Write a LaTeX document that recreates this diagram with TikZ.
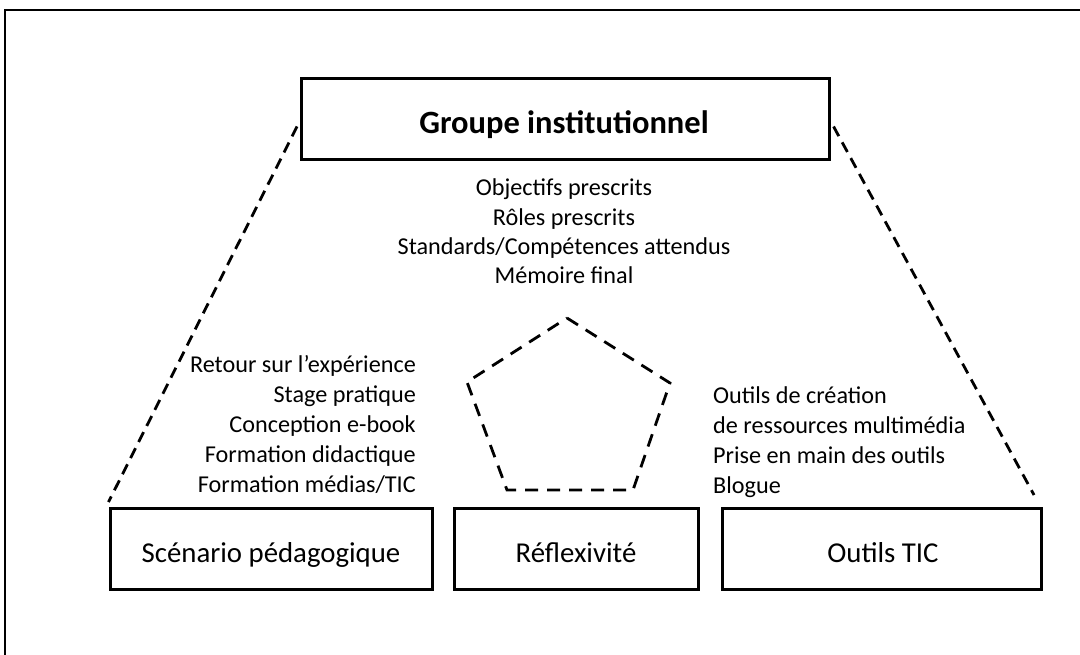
\documentclass[tikz,border=0pt]{standalone}
\usepackage{fontspec}
\setmainfont{Carlito}
\begin{document}
\begin{tikzpicture}[x=1pt,y=-1pt,
  boxstyle/.style={draw,line width=3pt,inner sep=0pt},
  dashline/.style={line width=2.8pt,dash pattern=on 11pt off 7pt},
  pentline/.style={line width=2.8pt,dash pattern=on 13pt off 9pt},
  bodytext/.style={inner sep=0pt,font=\fontsize{24.2}{29}\selectfont},
  labeltext/.style={font=\fontsize{28.8}{32}\selectfont}]
\useasboundingbox (0,0) rectangle (1080,654);
% outer frame (partial)
\draw[line width=2pt] (5,656) -- (5,10) -- (1082,10);
% boxes
\node[boxstyle,minimum width=527.5pt,minimum height=81pt] (tb) at (565.3,118.5) {};
\node[font=\bfseries\fontsize{32.5}{36}\selectfont,anchor=base] (tbt) at (564,133) {Groupe institutionnel};
\node[boxstyle,minimum width=322pt,minimum height=80.5pt] (sc) at (271,548.8) {};
\node[boxstyle,minimum width=244pt,minimum height=80.5pt] (re) at (576,548.8) {};
\node[boxstyle,minimum width=319.5pt,minimum height=80.5pt] (ot) at (881.8,548.8) {};
\node[labeltext,anchor=base] (sct) at (271,562) {Scénario pédagogique};
\node[labeltext,anchor=base] (ret) at (576,562) {Réflexivité};
\node[labeltext,anchor=base] (ott) at (883,562) {Outils TIC};
% dashed sides
\draw[dashline] ([xshift=-3pt,yshift=-8pt]tb.west) -- ([yshift=5pt]sc.north west);
\draw[dashline] ([xshift=3pt,yshift=-8pt]tb.east) -- ([xshift=-9pt,yshift=12pt]ot.north east);
% centre texts
\node[bodytext,anchor=base] (c1) at (564,195) {Objectifs prescrits};
\node[bodytext,anchor=base] (c2) at (564,225) {Rôles prescrits};
\node[bodytext,anchor=base] (c3) at (564,254.5) {Standards/Compétences attendus};
\node[bodytext,anchor=base] (c4) at (564,283.5) {Mémoire final};
% left texts
\node[bodytext,anchor=base east] (l1) at (416,372) {Retour sur l’expérience};
\node[bodytext,anchor=base east] (l2) at (416,402) {Stage pratique};
\node[bodytext,anchor=base east] (l3) at (416,432) {Conception e-book};
\node[bodytext,anchor=base east] (l4) at (416,462) {Formation didactique};
\node[bodytext,anchor=base east] (l5) at (416,492) {Formation médias/TIC};
% right texts
\node[bodytext,anchor=base west] (r1) at (713,403) {Outils de création};
\node[bodytext,anchor=base west] (r2) at (713,433) {de ressources multimédia};
\node[bodytext,anchor=base west] (r3) at (713,463) {Prise en main des outils};
\node[bodytext,anchor=base west] (r4) at (713,493) {Blogue};
% pentagon
\coordinate (p1) at (567,318);
\coordinate (p2) at (670,383);
\coordinate (p3) at (633,490);
\coordinate (p4) at (507,490);
\coordinate (p5) at (467,382);
\draw[pentline] (p1) -- (p2) -- (p3) -- (p4) -- (p5) -- cycle;
\end{tikzpicture}
\end{document}
